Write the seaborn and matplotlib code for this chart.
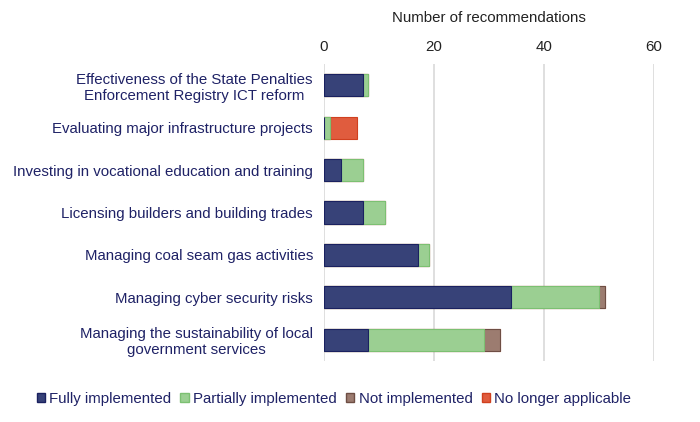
import matplotlib
matplotlib.use("Agg")
import matplotlib.pyplot as plt
from matplotlib.patches import Patch
import pandas as pd
import seaborn as sns

CATEGORIES = [
    "Effectiveness of the State Penalties\nEnforcement Registry ICT reform",
    "Evaluating major infrastructure projects",
    "Investing in vocational education and training",
    "Licensing builders and building trades",
    "Managing coal seam gas activities",
    "Managing cyber security risks",
    "Managing the sustainability of local\ngovernment services",
]
FULLY = [7, 0, 3, 7, 17, 34, 8]
PARTIALLY = [1, 1, 4, 4, 2, 16, 21]
NOT_IMPL = [0, 0, 0, 0, 0, 1, 3]
NO_LONGER = [0, 5, 0, 0, 0, 0, 0]
SERIES = ["Fully implemented", "Partially implemented", "Not implemented", "No longer applicable"]
COLORS = ["#374278", "#9BCF92", "#9C7C70", "#E05C3E"]
EDGES = ["#1A2160", "#7CC072", "#6E4E44", "#D0401F"]
TEXT = "#1F2266"
FS = 10.8

sns.set_theme(style="white")
plt.rcParams["font.family"] = ["Liberation Sans", "DejaVu Sans"]

df = pd.DataFrame({"cat": CATEGORIES, SERIES[0]: FULLY, SERIES[1]: PARTIALLY,
                   SERIES[2]: NOT_IMPL, SERIES[3]: NO_LONGER})
cum = df[SERIES].cumsum(axis=1)

fig = plt.figure(figsize=(7, 4.22), dpi=100)
ax = fig.add_axes([324 / 700, 1 - 361 / 422, (654 - 324) / 700, (361 - 64) / 422])

# draw cumulative totals from the top of the stack down so they overlay
for i in range(len(SERIES) - 1, -1, -1):
    sns.barplot(x=cum[SERIES[i]], y=df["cat"], orient="h", color=COLORS[i],
                edgecolor=EDGES[i], linewidth=0.8, width=0.52, saturation=1,
                ax=ax, legend=False)

ax.set_xlim(0, 60)
ax.set_xticks([0, 20, 40, 60])
ax.xaxis.tick_top()
ax.xaxis.set_label_position("top")
ax.set_xlabel("Number of recommendations", fontsize=FS, color="#222222", labelpad=13)
ax.set_ylabel("")
ax.tick_params(axis="x", length=0, labelsize=FS, labelcolor="#222222", pad=7)
ax.tick_params(axis="y", length=0, labelsize=FS, labelcolor=TEXT, pad=8)
for t in ax.get_yticklabels():
    t.set_multialignment("center")
ax.grid(axis="x", color="#D9D9D9", linewidth=1.2)
ax.set_axisbelow(True)
for s in ax.spines.values():
    s.set_visible(False)

leg_handles = [Patch(facecolor=COLORS[i], edgecolor=EDGES[i]) for i in range(len(SERIES))]
fig.legend(leg_handles, SERIES, loc="center", bbox_to_anchor=(0.477, 1 - 399 / 422),
           ncol=4, frameon=False, fontsize=FS, handlelength=0.55, handleheight=0.55,
           handletextpad=0.3, columnspacing=0.6, labelcolor=TEXT)

fig.savefig("out.png", dpi=100)
